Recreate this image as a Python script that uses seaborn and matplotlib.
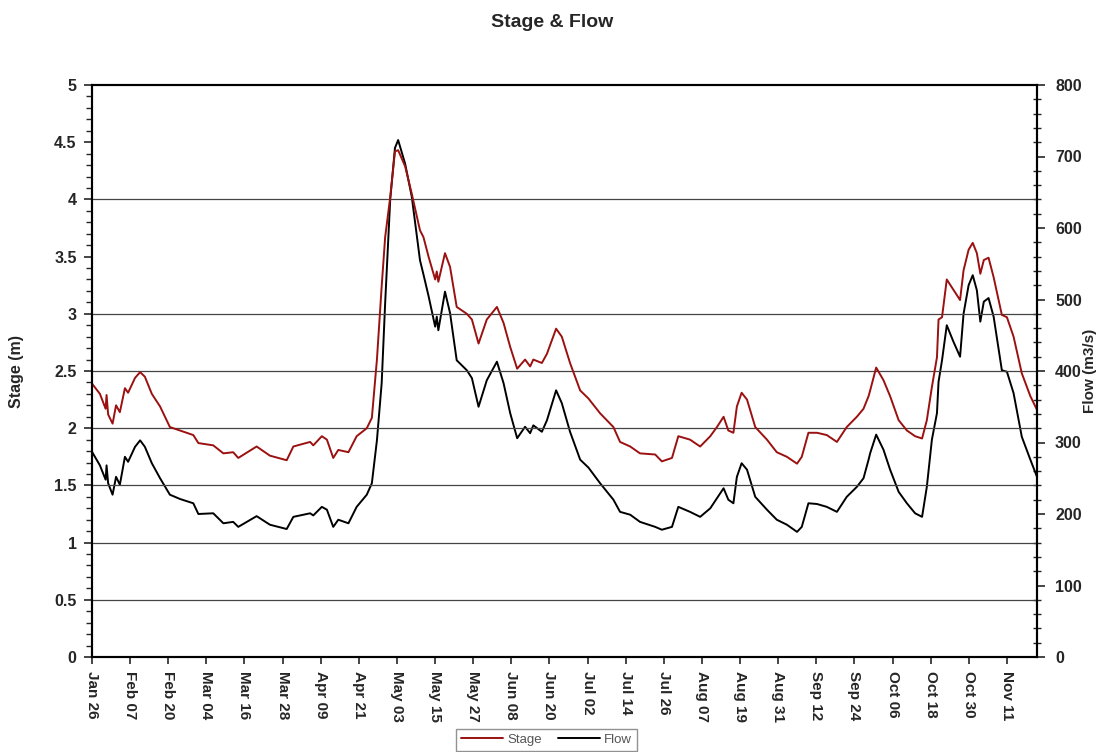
import matplotlib
matplotlib.use("Agg")
import matplotlib.pyplot as plt
from matplotlib.ticker import MultipleLocator, FixedLocator, FuncFormatter
from matplotlib.lines import Line2D
import seaborn as sns
import pandas as pd

# days since Jan 26
days = [0.0, 2.5, 4.3, 4.6, 5.1, 6.5, 7.6, 8.8, 10.4, 11.4, 13.6, 15.2, 16.7, 18.9,
        21.5, 24.6, 27.8, 32.0, 33.6, 38.3, 41.5, 44.6, 46.2, 52.0, 56.2, 61.5, 63.6,
        68.9, 69.9, 72.6, 74.2, 76.2, 77.8, 81.0, 83.6, 86.8, 88.4, 90.0, 91.5, 92.6,
        94.2, 95.7, 96.7, 98.9, 101.0, 103.6, 104.7, 106.3, 108.4, 108.9, 109.4, 111.5,
        113.1, 115.2, 118.4, 120.0, 122.1, 124.7, 127.9, 130.0, 132.1, 134.3, 136.8,
        138.4, 139.4, 142.1, 143.7, 146.6, 148.4, 151.0, 154.2, 156.8, 160.5, 164.7,
        166.8, 170.0, 173.1, 177.9, 180.0, 183.2, 185.2, 188.9, 192.1, 195.3, 197.4,
        199.5, 201.0, 202.6, 203.7, 205.2, 206.9, 209.5, 213.2, 216.3, 219.5, 222.7,
        224.2, 226.3, 229.0, 232.1, 235.3, 238.4, 241.6, 243.7, 245.3, 245.8, 247.7,
        250.0, 252.1, 254.8, 257.4, 260.0, 262.2, 263.7, 265.3, 266.9, 267.4, 268.5,
        270.0, 272.1, 274.2, 275.3, 276.9, 278.2, 279.5, 280.6, 281.7, 283.2, 284.8,
        287.4, 289.0, 291.1, 293.7, 296.4, 298.5]

stage = [2.39, 2.30, 2.17, 2.29, 2.12, 2.04, 2.20, 2.14, 2.35, 2.31, 2.44, 2.49, 2.45, 2.30,
         2.19, 2.01, 1.98, 1.94, 1.87, 1.85, 1.78, 1.79, 1.74, 1.84, 1.76, 1.72, 1.84,
         1.88, 1.85, 1.93, 1.90, 1.74, 1.81, 1.79, 1.93, 2.00, 2.09, 2.60, 3.24, 3.67,
         4.02, 4.42, 4.43, 4.29, 4.05, 3.73, 3.67, 3.50, 3.30, 3.37, 3.28, 3.53,
         3.41, 3.06, 3.00, 2.95, 2.74, 2.95, 3.06, 2.92, 2.71, 2.52, 2.60,
         2.54, 2.60, 2.57, 2.65, 2.87, 2.80, 2.57, 2.33, 2.26, 2.13, 2.01,
         1.88, 1.84, 1.78, 1.77, 1.71, 1.74, 1.93, 1.90, 1.84, 1.93, 2.01,
         2.10, 1.98, 1.96, 2.19, 2.31, 2.25, 2.01, 1.90, 1.79, 1.75, 1.69,
         1.75, 1.96, 1.96, 1.94, 1.88, 2.01, 2.10, 2.17, 2.28, 2.33, 2.53,
         2.42, 2.28, 2.07, 1.98, 1.93, 1.91, 2.07, 2.36, 2.62, 2.95, 2.97,
         3.30, 3.21, 3.12, 3.38, 3.56, 3.62, 3.53, 3.35, 3.47, 3.49, 3.32,
         2.99, 2.97, 2.80, 2.48, 2.28, 2.16]

flow = [287, 268, 248, 268, 243, 227, 252, 241, 280, 273, 294, 303, 294, 271,
        250, 227, 221, 215, 200, 201, 187, 189, 182, 197, 185, 179, 196,
        201, 198, 210, 206, 182, 192, 187, 210, 227, 243, 303, 383, 495,
        640, 712, 723, 690, 644, 555, 535, 505, 462, 476, 457, 511,
        481, 415, 401, 390, 350, 387, 413, 383, 341, 306, 322,
        313, 324, 315, 331, 373, 355, 315, 276, 265, 243, 220,
        203, 199, 189, 182, 178, 182, 210, 203, 196, 208, 222,
        236, 220, 215, 252, 271, 262, 224, 206, 192, 185, 175,
        182, 215, 214, 210, 203, 224, 238, 250, 276, 285, 311,
        290, 262, 231, 215, 201, 196, 238, 304, 341, 385, 415,
        464, 441, 420, 480, 520, 534, 513, 469, 497, 502, 476,
        401, 399, 369, 308, 276, 252]

tick_labels = ["Jan 26", "Feb 07", "Feb 20", "Mar 04", "Mar 16", "Mar 28", "Apr 09",
               "Apr 21", "May 03", "May 15", "May 27", "Jun 08", "Jun 20", "Jul 02",
               "Jul 14", "Jul 26", "Aug 07", "Aug 19", "Aug 31", "Sep 12", "Sep 24",
               "Oct 06", "Oct 18", "Oct 30", "Nov 11"]

df = pd.DataFrame({"day": days, "Stage": stage, "Flow": flow})

sns.set_style("ticks")
plt.rcParams["font.family"] = ["Liberation Sans", "DejaVu Sans"]
plt.rcParams["font.weight"] = "bold"

fig = plt.figure(figsize=(10.97, 7.52), dpi=100)
ax = fig.add_axes([92/1097, 1 - 657/752, (1037-92)/1097, (657-85)/752])
ax2 = ax.twinx()

stage_color = "#9b1010"
flow_color = "#000000"

for y in [0.5, 1, 1.5, 2, 2.5, 3, 4]:
    ax.axhline(y, color="#444444", lw=0.9, zorder=0)

sns.lineplot(data=df, x="day", y="Flow", ax=ax2, color=flow_color, lw=1.4, legend=False)
sns.lineplot(data=df, x="day", y="Stage", ax=ax, color=stage_color, lw=1.4, legend=False)
ax.set_zorder(ax2.get_zorder() + 1)
ax.patch.set_visible(False)

ax.set_xlim(0, 298.5)
ax.set_ylim(0, 5)
ax2.set_ylim(0, 800)

step = 289 / 24
ax.xaxis.set_major_locator(FixedLocator([i * step for i in range(len(tick_labels))]))
ax.set_xticklabels(tick_labels, rotation=-90, fontsize=11, fontweight="bold")
ax.yaxis.set_major_locator(MultipleLocator(0.5))
ax.yaxis.set_minor_locator(MultipleLocator(0.1))
ax.yaxis.set_major_formatter(FuncFormatter(lambda v, p: f"{v:g}"))
ax2.yaxis.set_major_locator(MultipleLocator(100))
ax2.yaxis.set_minor_locator(MultipleLocator(20))

ax.tick_params(axis="x", direction="out", length=5, width=1.2, pad=5, labelsize=11)
ax.tick_params(axis="y", which="major", direction="out", length=6, width=1.2, pad=5, labelsize=11.5)
ax.tick_params(axis="y", which="minor", direction="out", length=4, width=1.0)
ax2.tick_params(axis="y", which="major", direction="out", length=6, width=1.2, pad=7, labelsize=11.5)
ax2.tick_params(axis="y", which="minor", direction="inout", length=6, width=1.0)
for lab in ax.get_yticklabels() + ax2.get_yticklabels() + ax.get_xticklabels():
    lab.set_fontweight("bold")

for a in (ax, ax2):
    for s in a.spines.values():
        s.set_linewidth(1.5)
        s.set_color("black")

ax.set_xlabel("")
ax.set_ylabel("Stage (m)", fontsize=11.5, fontweight="bold", labelpad=22)
ax2.set_ylabel("Flow (m3/s)", fontsize=11, fontweight="bold", labelpad=1)

fig.suptitle("Stage & Flow", x=0.503, y=0.982, fontsize=14, fontweight="bold")

handles = [Line2D([], [], color=stage_color, lw=1.4), Line2D([], [], color=flow_color, lw=1.4)]
leg = fig.legend(handles, ["Stage", "Flow"], loc="upper center", bbox_to_anchor=(0.498, 0.04),
                 ncol=2, frameon=True, fancybox=False, edgecolor="#777777",
                 prop={"size": 9.5, "weight": "normal"}, handlelength=3.2,
                 columnspacing=1.2, handletextpad=0.3, borderpad=0.4)
for t in leg.get_texts():
    t.set_color("#555555")

fig.savefig("out.png", dpi=100)
